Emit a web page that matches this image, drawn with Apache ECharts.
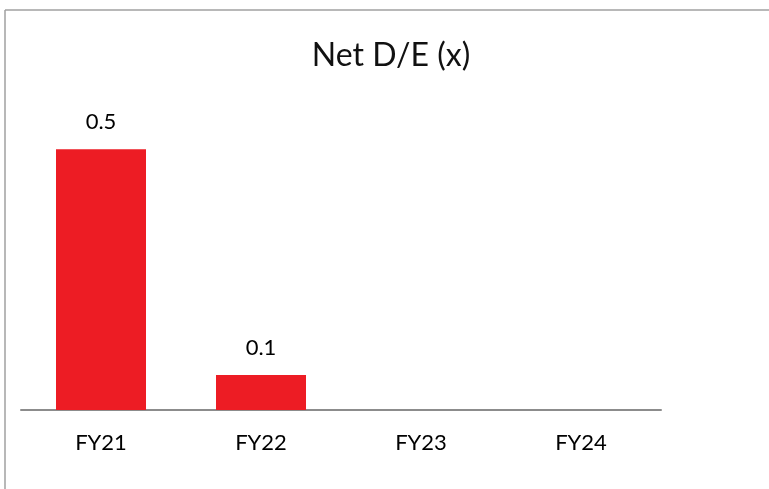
<!DOCTYPE html>
<html>
<head>
<meta charset="utf-8">
<script src="https://cdn.jsdelivr.net/npm/echarts@6/dist/echarts.min.js"></script>
<style>
  html, body { margin: 0; padding: 0; background: #fff; }
  #chart { width: 769px; height: 489px; }
</style>
</head>
<body>
<div id="chart"></div>
<script>
const categories = ['FY21', 'FY22', 'FY23', 'FY24'];
const netDE = [0.5, 0.067, null, null];

const chart = echarts.init(document.getElementById('chart'));
const option = {
  backgroundColor: '#ffffff',
  textStyle: { fontFamily: 'Lato' },
  title: {
    text: 'Net D/E (x)',
    left: 386,
    textAlign: 'center',
    top: 35,
    textStyle: { fontFamily: 'Lato', fontWeight: 'normal', fontSize: 32, color: '#111' }
  },
  graphic: [
    { type: 'line', shape: { x1: 5, y1: 10, x2: 769, y2: 10 }, style: { stroke: '#a0a0a0', lineWidth: 1.5 } },
    { type: 'line', shape: { x1: 5, y1: 10, x2: 5, y2: 489 }, style: { stroke: '#a0a0a0', lineWidth: 1.5 } }
  ],
  grid: { left: 21, right: 108, top: 97, bottom: 79 },
  xAxis: {
    type: 'category',
    data: categories,
    axisLine: { lineStyle: { color: '#8c8c8c', width: 2 } },
    axisTick: { show: false },
    axisLabel: { fontSize: 22, color: '#000', margin: 22, fontFamily: 'Lato' }
  },
  yAxis: {
    type: 'value',
    min: 0,
    max: 0.6,
    show: false,
    splitLine: { show: false }
  },
  series: [{
    type: 'bar',
    data: netDE,
    barWidth: 90,
    itemStyle: { color: '#ed1c24' },
    label: {
      show: true,
      position: 'top',
      distance: 16,
      fontSize: 22,
      color: '#000',
      fontFamily: 'Lato',
      formatter: p => p.value == null ? '' : p.value.toFixed(1)
    }
  }]
};
chart.setOption(option);
</script>
</body>
</html>
